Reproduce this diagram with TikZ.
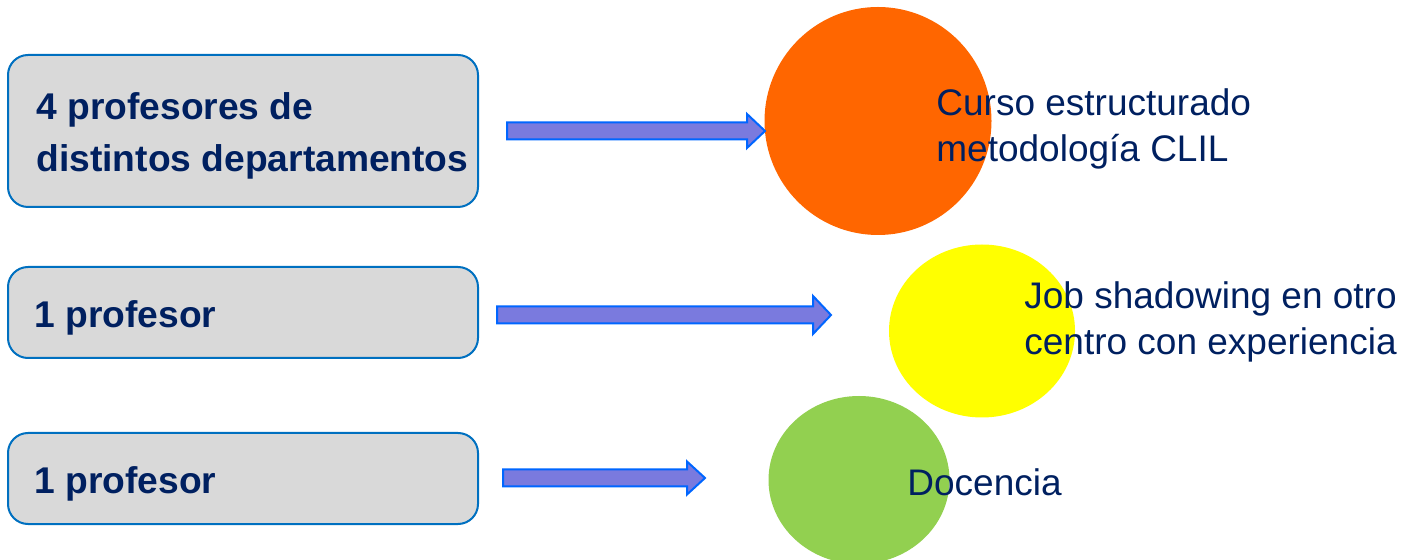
\documentclass[tikz,border=0pt]{standalone}
\usepackage{fontspec}
\setmainfont{Liberation Sans}
\usetikzlibrary{shapes.geometric,positioning}
\definecolor{navy}{RGB}{0,32,96}
\definecolor{boxgray}{RGB}{217,217,217}
\definecolor{boxblue}{RGB}{0,112,192}
\definecolor{arrfill}{RGB}{122,122,222}
\definecolor{arrline}{RGB}{0,102,255}
\definecolor{corange}{RGB}{255,102,0}
\definecolor{cyellow}{RGB}{255,255,0}
\definecolor{cgreen}{RGB}{146,208,80}
\tikzset{
  profbox/.style={rounded corners=10pt,draw=boxblue,line width=1pt,fill=boxgray,minimum width=235pt},
  proftext/.style={anchor=west,inner sep=0pt,text=navy,align=left,font=\fontsize{18.6}{26}\selectfont\bfseries},
  blob/.style={ellipse,inner sep=0pt,draw=none},
  actext/.style={anchor=base west,inner sep=0pt,text=navy,align=left,font=\fontsize{18.5}{23}\selectfont},
  barrow/.style={draw=arrline,fill=arrfill,line width=1pt,line join=miter}
}
% block arrow: start, tip, half width of the head
\newcommand{\blockarrow}[3]{%
  \draw[barrow] ([yshift=-4.25pt]#1) -- ([xshift=-9pt,yshift=-4.25pt]#2)
    -- ([xshift=-9pt,yshift=-#3]#2) -- (#2) -- ([xshift=-9pt,yshift=#3]#2)
    -- ([xshift=-9pt,yshift=4.25pt]#2) -- ([yshift=4.25pt]#1) -- cycle;}
\begin{document}
\begin{tikzpicture}[x=0.5pt,y=-0.5pt]
  \useasboundingbox (0,0) rectangle (1412,560);
  % profesores
  \node[profbox,minimum height=76pt] (box1) at (243,131) {};
  \node[profbox,minimum height=45.5pt] (box2) at (243,312.5) {};
  \node[profbox,minimum height=45.5pt] (box3) at (243,478.5) {};
  \node[proftext] (t1) at ([xshift=14.5pt,yshift=-2.5pt]box1.west) {4 profesores de\\distintos departamentos};
  \node[proftext] (t2) at ([xshift=13.5pt,yshift=-2.5pt]box2.west) {1 profesor};
  \node[proftext] (t3) at ([xshift=13.5pt,yshift=-2.5pt]box3.west) {1 profesor};
  % actividades
  \node[blob,fill=corange,minimum width=113.5pt,minimum height=114pt] (c1) at (878,121) {};
  \node[blob,fill=cyellow,minimum width=93pt,minimum height=86.5pt] (c2) at (982,331) {};
  \node[blob,fill=cgreen,minimum width=90.5pt,minimum height=84pt] (c3) at (859,480) {};
  \node[actext] (a1) at (936,162) {Curso estructurado\\metodología CLIL};
  \node[actext] (a2) at (1024,355) {Job shadowing en otro\\centro con experiencia};
  \node[actext] (a3) at (907,495) {Docencia};
  % flechas
  \coordinate (s1) at (507,131);
  \coordinate (e1) at (765,131);
  \coordinate (s2) at (497,315);
  \coordinate (e2) at (831,315);
  \coordinate (s3) at (503,478);
  \coordinate (e3) at (705,478);
  \blockarrow{s1}{e1}{8.5pt}
  \blockarrow{s2}{e2}{9.5pt}
  \blockarrow{s3}{e3}{8.25pt}
\end{tikzpicture}
\end{document}
